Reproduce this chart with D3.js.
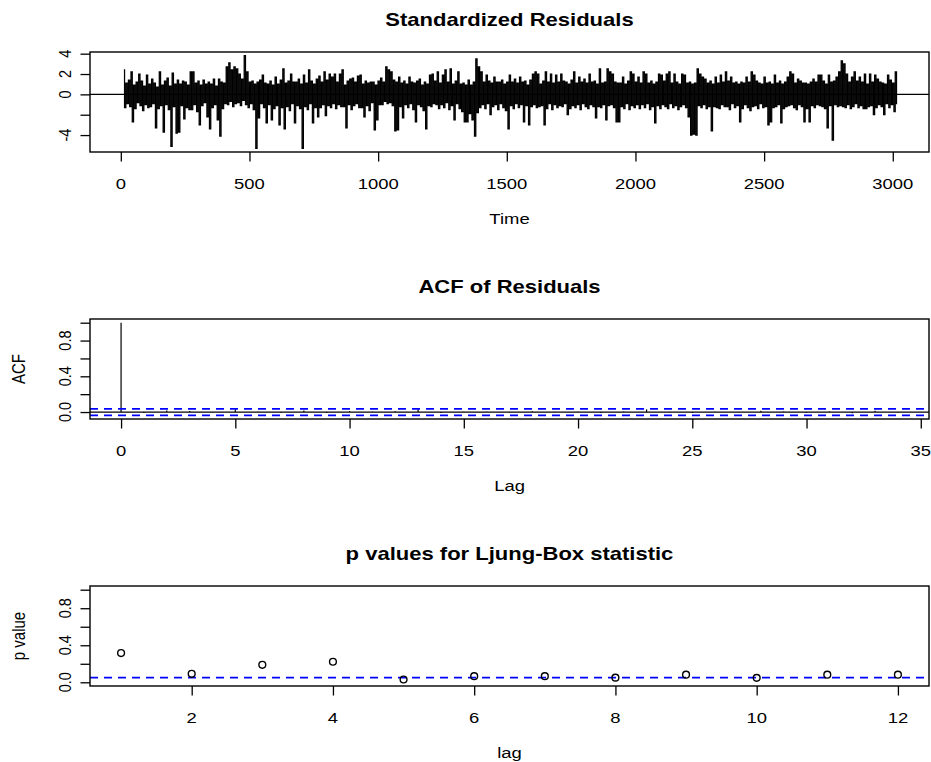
<!DOCTYPE html>
<html>
<head>
<meta charset="utf-8">
<script src="https://cdnjs.cloudflare.com/ajax/libs/d3/7.8.5/d3.min.js"></script>
<style>
body{margin:0;background:#fff;}
svg{display:block;}
text{font-family:"Liberation Sans",Arial,Helvetica,sans-serif;fill:#000;}
</style>
</head>
<body>
<div class="chart-area"></div>
<script>
// standardized residuals: one value every 5 time steps from t = 12
var residStart = 12, residStep = 5;
var residValues = [
 2.4,-1.3,1.1,-0.9,1.4,-1.2,2.2,-2.7,0.9,-1.4,1.2,-0.8,2.0,-1.1,1.3,-1.6,0.8,-1.0,1.9,-1.3,
 1.0,-1.2,1.5,-0.9,1.1,-3.3,0.7,-1.4,2.2,-1.1,0.9,-3.7,1.3,-1.0,1.6,-1.5,0.8,-5.1,2.1,-1.2,
 1.0,-3.8,1.4,-3.7,1.0,-1.1,1.3,-2.4,1.2,-1.3,0.9,-1.5,2.2,-1.5,2.2,-1.0,1.1,-1.7,1.3,-3.0,
 0.9,-1.1,1.4,-0.8,1.0,-2.2,1.2,-3.4,1.0,-1.3,1.5,-1.0,0.8,-2.5,1.5,-4.1,1.2,-1.4,1.1,-0.9,
 2.7,-1.0,3.1,-0.7,2.4,-1.2,2.7,-0.9,2.5,-0.8,2.0,-1.1,1.5,-0.6,3.8,-1.0,2.2,-1.3,1.2,-0.9,
 1.3,-1.5,1.0,-5.3,1.2,-2.3,1.4,-0.9,1.9,-1.3,1.1,-2.8,1.0,-1.0,1.3,-2.5,0.9,-1.4,1.7,-1.1,
 1.0,-3.0,1.4,-1.3,2.5,-3.4,1.1,-1.2,1.3,-1.6,2.0,-0.9,1.2,-2.8,1.2,-1.1,1.5,-1.4,1.0,-5.3,
 1.9,-1.2,1.1,-1.5,2.4,-0.9,1.3,-2.8,1.0,-1.3,1.5,-2.2,1.8,-1.3,1.2,-1.0,2.2,-2.1,1.4,-1.1,
 2.0,-1.3,1.7,-0.9,2.0,-1.4,1.2,-1.0,2.0,-1.2,2.4,-1.2,0.9,-3.3,1.3,-1.0,1.5,-1.5,1.6,-1.1,
 1.2,-0.9,1.8,-1.3,1.9,-1.3,1.0,-2.2,1.3,-1.1,1.1,-1.6,1.2,-0.8,1.2,-3.5,0.9,-2.5,1.3,-1.0,
 1.6,-1.0,1.2,-0.7,2.7,-0.9,2.4,-0.8,2.2,-1.1,1.4,-3.6,1.2,-3.5,1.7,-1.2,1.1,-2.3,1.3,-1.0,
 1.0,-1.3,1.7,-0.9,1.2,-1.5,1.1,-2.7,1.3,-1.0,1.5,-1.2,0.9,-1.6,1.2,-3.4,1.0,-1.1,1.9,-1.2,
 2.0,-0.9,1.3,-1.0,2.2,-1.4,1.1,-1.0,1.9,-1.3,2.4,-0.8,1.2,-1.5,2.5,-1.1,1.0,-2.5,1.3,-0.9,
 2.2,-1.4,1.0,-1.7,1.1,-2.7,0.9,-2.7,1.4,-1.9,0.9,-2.5,1.2,-4.1,3.5,-1.8,2.7,-1.3,2.2,-1.0,
 1.2,-1.4,1.9,-0.9,1.3,-2.0,1.1,-1.2,1.7,-1.0,1.2,-1.5,1.2,-0.9,1.4,-1.3,1.0,-1.6,1.2,-3.4,
 1.9,-1.1,1.2,-1.4,1.5,-0.9,1.1,-1.3,1.7,-1.0,1.2,-2.7,1.3,-1.1,0.9,-3.0,1.4,-1.2,2.0,-1.0,
 2.2,-1.3,2.0,-1.2,1.0,-1.1,1.3,-3.0,2.2,-1.4,1.2,-0.9,2.0,-1.5,1.1,-1.0,1.9,-1.3,1.2,-1.1,
 2.0,-1.2,1.3,-0.9,1.2,-2.0,1.0,-1.4,1.4,-1.1,2.2,-1.3,1.1,-1.0,1.7,-1.5,1.2,-0.9,1.5,-1.2,
 1.1,-1.4,2.0,-1.0,1.2,-1.2,1.3,-2.3,1.0,-1.2,2.5,-1.3,1.1,-1.0,1.2,-2.5,2.5,-1.1,2.2,-1.0,
 2.0,-1.3,1.2,-2.7,1.1,-2.7,1.1,-1.2,1.7,-1.4,1.0,-0.9,1.3,-1.5,2.2,-1.1,2.0,-1.3,1.2,-1.0,
 1.7,-1.4,1.1,-1.0,2.2,-1.3,2.0,-0.9,1.1,-1.5,1.3,-1.2,1.0,-2.8,1.2,-1.1,2.0,-1.4,1.9,-1.0,
 1.3,-1.2,2.0,-1.4,2.2,-0.9,1.1,-1.3,2.0,-1.1,1.2,-1.5,1.0,-1.2,2.0,-1.0,1.9,-1.3,1.1,-2.2,
 1.2,-4.0,1.0,-3.9,1.1,-4.0,2.5,-1.1,2.0,-1.3,1.7,-1.0,1.5,-1.4,1.1,-1.2,1.3,-3.6,1.0,-1.2,
 1.7,-1.3,1.1,-1.4,1.9,-1.0,1.2,-1.2,2.2,-1.2,1.3,-1.5,1.7,-0.9,1.1,-1.3,1.2,-1.1,1.0,-2.7,
 1.2,-1.4,1.1,-1.0,1.7,-1.3,1.2,-1.6,2.2,-1.2,1.9,-1.1,1.3,-1.4,1.1,-0.9,1.0,-1.3,1.7,-1.2,
 1.1,-3.0,1.2,-2.7,1.0,-1.3,1.9,-1.2,1.1,-1.0,1.3,-2.8,1.0,-1.4,1.2,-1.2,1.7,-1.1,2.2,-1.0,
 2.0,-1.3,1.1,-1.5,1.5,-1.0,1.3,-1.2,1.1,-2.7,1.1,-1.4,1.0,-2.7,1.2,-1.1,1.5,-1.3,1.2,-1.0,
 1.9,-1.1,1.9,-1.2,1.3,-1.4,1.0,-3.3,1.9,-1.1,1.2,-4.5,1.3,-1.0,1.7,-1.2,2.2,-1.1,3.3,-1.2,
 3.0,-1.3,2.0,-1.0,1.2,-1.4,1.7,-1.2,2.2,-0.9,1.3,-1.3,1.7,-1.1,1.2,-1.4,2.0,-1.4,1.0,-1.2,
 2.0,-1.1,1.2,-2.0,1.9,-1.3,1.5,-1.0,1.2,-1.2,1.1,-2.0,1.0,-0.9,1.9,-1.3,1.4,-1.0,1.1,-1.7,
 2.2,-0.9
];
var timeRange = [1, 3020];
var timeTicks = [0, 500, 1000, 1500, 2000, 2500, 3000];
var residYTicks = [-4, -2, 0, 2, 4];
var residYLabels = [-4, 0, 2, 4];

// ACF of residuals
var acfLags = [0,1,2,3,4,5,6,7,8,9,10,11,12,13,14,15,16,17,18,19,20,21,22,23,24,25,26,27,28,29,30,31,32,33,34];
var acfValues = [1, -0.010, 0.018, 0.012, -0.005, 0.030, 0.003, -0.009, 0.016, -0.012,
                 0.010, 0.004, 0.009, 0.030, -0.010, 0.002, 0.004, -0.004, 0.010, 0.002,
                 0.003, -0.010, 0.005, 0.030, 0.002, -0.010, 0.004, -0.003, 0.014, 0.005,
                 -0.009, 0.005, -0.014, 0.014, -0.005];
var acfBound = 0.0364;
var acfXTicks = [0, 5, 10, 15, 20, 25, 30, 35];

// Ljung-Box p values
var lbLags = [1,2,3,4,5,6,7,8,9,10,11,12];
var lbPValues = [0.316, 0.092, 0.189, 0.222, 0.030, 0.066, 0.066, 0.050, 0.082, 0.048, 0.082, 0.082];
var lbLevel = 0.05;
var lbXTicks = [2, 4, 6, 8, 10, 12];

var unitYTicks = [0, 0.2, 0.4, 0.6, 0.8, 1];
var unitYLabels = [0, 0.4, 0.8];

var W = 931, H = 762;
var left = 90, right = 929, boxH = 100;
var stretch = 1.19;

var svg = d3.select(".chart-area").append("svg")
	.attr("width", W)
	.attr("height", H);

// R style axis padding (4% each side)
function pad(d){
	var r = d[1] - d[0];
	return [d[0] - 0.04*r, d[1] + 0.04*r];
}

function hText(x, y, str, size, bold){
	svg.append("text")
		.attr("transform", "translate(" + x + "," + y + ") scale(" + stretch + ",1)")
		.attr("text-anchor", "middle")
		.style("font-size", size + "px")
		.style("font-weight", bold ? "bold" : "normal")
		.text(str);
}

function vText(x, y, str, size){
	svg.append("text")
		.attr("transform", "translate(" + x + "," + y + ") rotate(-90) scale(1," + stretch + ")")
		.attr("text-anchor", "middle")
		.style("font-size", size + "px")
		.text(str);
}

function fmt1(d){ return d === 0 ? "0.0" : d3.format(".1f")(d); }

// frame, axes and labels for one panel
function panel(top, x, y, opt){
	var bottom = top + boxH;
	var g = svg.append("g");

	g.append("g")
		.attr("transform", "translate(0," + bottom + ")")
		.call(d3.axisBottom(x).tickValues(opt.xTicks).tickSize(9.5).tickFormat(""))
		.call(function(a){ a.select(".domain").remove(); a.selectAll("line").attr("stroke-width", 1.3); });

	g.append("g")
		.attr("transform", "translate(" + left + ",0)")
		.call(d3.axisLeft(y).tickValues(opt.yTicks).tickSize(9.5).tickFormat(""))
		.call(function(a){ a.select(".domain").remove(); a.selectAll("line").attr("stroke-width", 1.3); });

	opt.xTicks.forEach(function(t){
		hText(x(t), bottom + 36.5, opt.xFormat ? opt.xFormat(t) : t, 15.5, false);
	});
	opt.yLabels.forEach(function(t){
		vText(71, y(t), opt.yFormat ? opt.yFormat(t) : t, 14.5);
	});

	hText((left + right)/2, top - 26, opt.title, 18.5, true);
	hText((left + right)/2, bottom + 72, opt.xLabel, 15.5, false);
	if(opt.yLabel) vText(25, top + boxH/2, opt.yLabel, 15);

	return g;
}

function box(g, top){
	g.append("rect")
		.attr("x", left).attr("y", top)
		.attr("width", right - left).attr("height", boxH)
		.attr("fill", "none")
		.attr("stroke", "#000")
		.attr("stroke-width", 1.4);
}

// ---- panel 1: standardized residuals
var top1 = 52;
var resid = residValues.map(function(v, i){ return {t: residStart + i*residStep, v: v}; });
var x1 = d3.scaleLinear().domain(pad(timeRange)).range([left, right]);
var y1 = d3.scaleLinear().domain(pad(d3.extent(residValues))).range([top1 + boxH, top1]);
var g1 = panel(top1, x1, y1, {
	xTicks: timeTicks, yTicks: residYTicks, yLabels: residYLabels,
	title: "Standardized Residuals", xLabel: "Time"
});
// step curve: the ~4 obs per pixel of the original render as a solid band
g1.append("path")
	.datum(resid)
	.attr("fill", "none")
	.attr("stroke", "#000")
	.attr("stroke-width", 1.25)
	.attr("d", d3.line().curve(d3.curveStep)
		.x(function(d){ return x1(d.t); }).y(function(d){ return y1(d.v); }));
g1.append("line")
	.attr("x1", left).attr("x2", right)
	.attr("y1", y1(0)).attr("y2", y1(0))
	.attr("stroke", "#000").attr("stroke-width", 1.2);
box(g1, top1);

// ---- panel 2: ACF
var top2 = 319;
var x2 = d3.scaleLinear().domain(pad(d3.extent(acfLags))).range([left, right]);
var y2 = d3.scaleLinear().domain(pad([Math.min(d3.min(acfValues), -acfBound), 1])).range([top2 + boxH, top2]);
var g2 = panel(top2, x2, y2, {
	xTicks: acfXTicks, yTicks: unitYTicks, yLabels: unitYLabels, yFormat: fmt1,
	title: "ACF of Residuals", xLabel: "Lag", yLabel: "ACF"
});
g2.selectAll(".spike")
	.data(acfLags)
	.enter().append("line")
	.attr("class", "spike")
	.attr("x1", function(d){ return x2(d); }).attr("x2", function(d){ return x2(d); })
	.attr("y1", y2(0))
	.attr("y2", function(d, i){ return y2(acfValues[i]); })
	.attr("stroke", "#000").attr("stroke-width", 1.2);
g2.append("line")
	.attr("x1", left).attr("x2", right)
	.attr("y1", y2(0)).attr("y2", y2(0))
	.attr("stroke", "#000").attr("stroke-width", 1.2);
[acfBound, -acfBound].forEach(function(b){
	g2.append("line")
		.attr("x1", left).attr("x2", right)
		.attr("y1", y2(b)).attr("y2", y2(b))
		.attr("stroke", "#0000ff").attr("stroke-width", 1.7)
		.attr("stroke-dasharray", "8,6");
});
box(g2, top2);

// ---- panel 3: Ljung-Box p values
var top3 = 586;
var x3 = d3.scaleLinear().domain(pad(d3.extent(lbLags))).range([left, right]);
var y3 = d3.scaleLinear().domain(pad([0, 1])).range([top3 + boxH, top3]);
var g3 = panel(top3, x3, y3, {
	xTicks: lbXTicks, yTicks: unitYTicks, yLabels: unitYLabels, yFormat: fmt1,
	title: "p values for Ljung-Box statistic", xLabel: "lag", yLabel: "p value"
});
g3.append("line")
	.attr("x1", left).attr("x2", right)
	.attr("y1", y3(lbLevel)).attr("y2", y3(lbLevel))
	.attr("stroke", "#0000ff").attr("stroke-width", 1.6)
	.attr("stroke-dasharray", "8,6");
g3.selectAll(".pt")
	.data(lbLags)
	.enter().append("circle")
	.attr("class", "pt")
	.attr("cx", function(d){ return x3(d); })
	.attr("cy", function(d, i){ return y3(lbPValues[i]); })
	.attr("r", 3.4)
	.attr("fill", "none")
	.attr("stroke", "#000")
	.attr("stroke-width", 1.4);
box(g3, top3);
</script>
</body>
</html>
